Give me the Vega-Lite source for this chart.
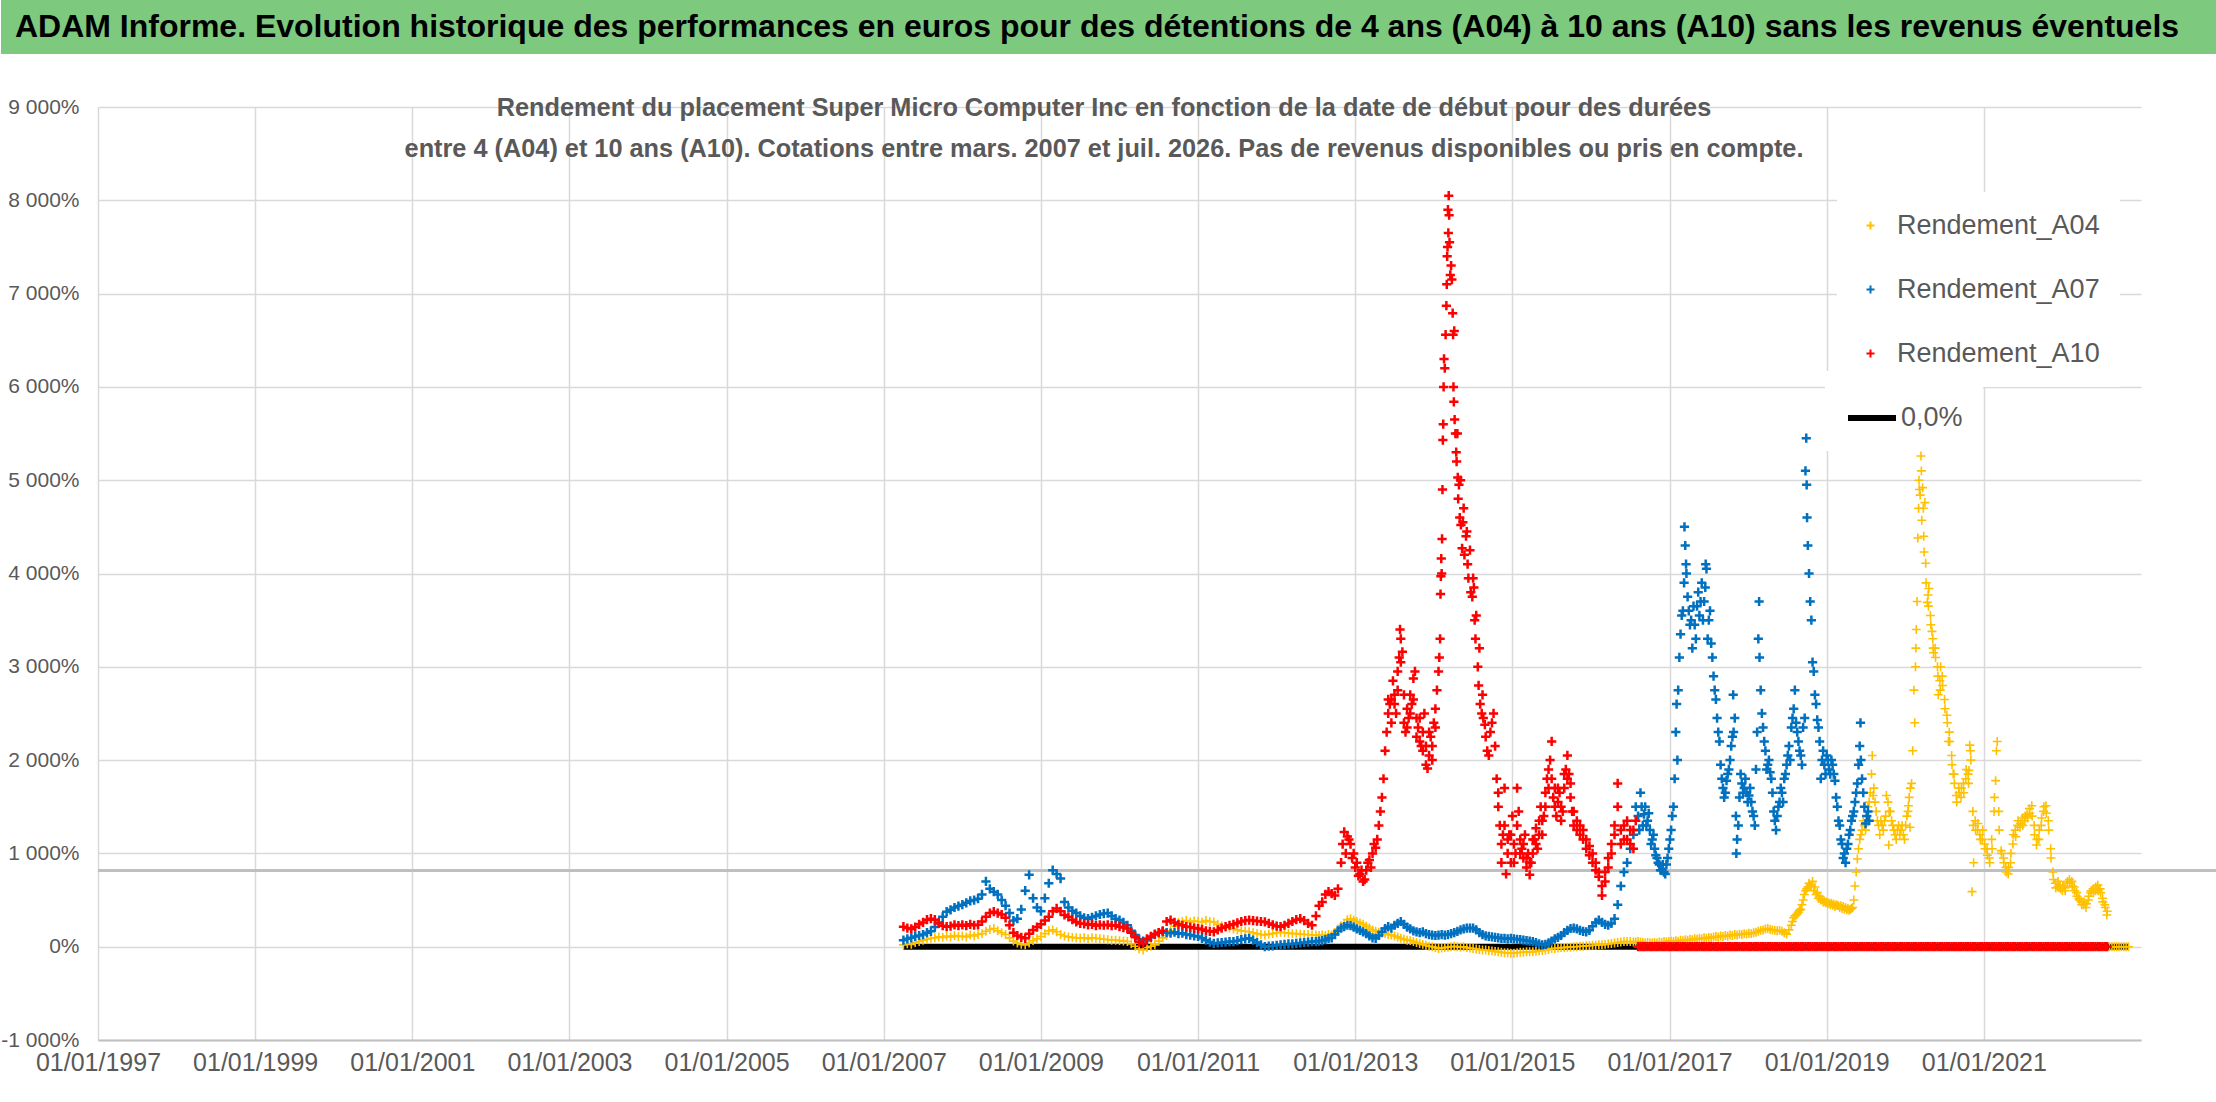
{
  "$schema": "https://vega.github.io/schema/vega-lite/v6.json",
  "background": "white",
  "padding": 0,
  "columns": 1,
  "spacing": 41,
  "config": {
    "view": {"stroke": null},
    "font": "Liberation Sans, sans-serif"
  },
  "concat": [
    {
      "width": 2216,
      "height": 54,
      "view": {"fill": "#7DC97E", "stroke": null},
      "data": {"values": [{"titre": "ADAM Informe. Evolution historique des performances en euros pour des détentions de 4 ans (A04) à 10 ans (A10) sans les revenus éventuels"}]},
      "mark": {"type": "text", "font": "Liberation Sans, sans-serif", "fontSize": 32, "fontWeight": "bold", "color": "black", "dx": -12},
      "encoding": {"text": {"field": "titre"}}
    },
    {
      "width": 2140,
      "height": 933,
      "title": {
        "text": [
          "Rendement du placement Super Micro Computer Inc en fonction de la date de début pour des durées",
          "entre 4 (A04) et 10 ans (A10). Cotations entre mars. 2007 et juil. 2026. Pas de revenus disponibles ou pris en compte."
        ],
        "anchor": "middle",
        "frame": "group",
        "offset": -66,
        "dx": 33,
        "font": "Liberation Sans, sans-serif",
        "fontSize": 25.3,
        "fontWeight": "bold",
        "color": "#595959",
        "lineHeight": 41
      },
      "data": {"values": [
        {"t":2007.25,"a":20,"b":70,"c":215},
        {"t":2007.30,"a":30,"b":85,"c":200},
        {"t":2007.35,"a":25,"b":95,"c":190},
        {"t":2007.40,"a":45,"b":110,"c":210},
        {"t":2007.45,"a":55,"b":120,"c":240},
        {"t":2007.50,"a":70,"b":130,"c":260},
        {"t":2007.55,"a":80,"b":150,"c":290},
        {"t":2007.60,"a":90,"b":165,"c":300},
        {"t":2007.65,"a":95,"b":210,"c":290},
        {"t":2007.70,"a":105,"b":260,"c":250},
        {"t":2007.75,"a":100,"b":320,"c":225},
        {"t":2007.80,"a":115,"b":375,"c":215},
        {"t":2007.85,"a":105,"b":395,"c":220},
        {"t":2007.90,"a":120,"b":420,"c":235},
        {"t":2007.95,"a":110,"b":435,"c":225},
        {"t":2008.00,"a":115,"b":450,"c":235},
        {"t":2008.05,"a":105,"b":470,"c":225},
        {"t":2008.10,"a":125,"b":490,"c":240},
        {"t":2008.15,"a":115,"b":500,"c":230},
        {"t":2008.20,"a":130,"b":515,"c":235},
        {"t":2008.25,"a":140,"b":560,"c":270},
        {"t":2008.30,"a":165,"b":700,"c":320},
        {"t":2008.35,"a":185,"b":620,"c":360},
        {"t":2008.40,"a":195,"b":590,"c":375},
        {"t":2008.45,"a":170,"b":560,"c":360},
        {"t":2008.50,"a":150,"b":500,"c":345},
        {"t":2008.55,"a":130,"b":440,"c":310},
        {"t":2008.60,"a":95,"b":360,"c":230},
        {"t":2008.65,"a":60,"b":280,"c":150},
        {"t":2008.70,"a":40,"b":300,"c":120},
        {"t":2008.75,"a":25,"b":400,"c":100},
        {"t":2008.80,"a":20,"b":600,"c":90},
        {"t":2008.85,"a":40,"b":770,"c":140},
        {"t":2008.90,"a":65,"b":520,"c":180},
        {"t":2008.95,"a":85,"b":420,"c":210},
        {"t":2009.00,"a":110,"b":380,"c":240},
        {"t":2009.05,"a":140,"b":520,"c":280},
        {"t":2009.10,"a":170,"b":680,"c":320},
        {"t":2009.15,"a":180,"b":820,"c":380},
        {"t":2009.20,"a":160,"b":780,"c":410},
        {"t":2009.25,"a":130,"b":730,"c":380},
        {"t":2009.30,"a":115,"b":480,"c":340},
        {"t":2009.35,"a":105,"b":420,"c":320},
        {"t":2009.40,"a":100,"b":385,"c":290},
        {"t":2009.45,"a":95,"b":360,"c":265},
        {"t":2009.50,"a":90,"b":330,"c":250},
        {"t":2009.55,"a":95,"b":310,"c":245},
        {"t":2009.60,"a":85,"b":300,"c":235},
        {"t":2009.65,"a":95,"b":315,"c":240},
        {"t":2009.70,"a":90,"b":330,"c":225},
        {"t":2009.75,"a":85,"b":345,"c":235},
        {"t":2009.80,"a":80,"b":355,"c":230},
        {"t":2009.85,"a":75,"b":360,"c":235},
        {"t":2009.90,"a":70,"b":330,"c":225},
        {"t":2009.95,"a":70,"b":300,"c":230},
        {"t":2010.00,"a":65,"b":285,"c":215},
        {"t":2010.05,"a":60,"b":260,"c":205},
        {"t":2010.10,"a":55,"b":230,"c":195},
        {"t":2010.15,"a":30,"b":170,"c":150},
        {"t":2010.20,"a":5,"b":125,"c":100},
        {"t":2010.25,"a":-25,"b":80,"c":50},
        {"t":2010.30,"a":-35,"b":60,"c":35},
        {"t":2010.35,"a":-10,"b":70,"c":85},
        {"t":2010.40,"a":5,"b":100,"c":110},
        {"t":2010.45,"a":20,"b":130,"c":135},
        {"t":2010.50,"a":60,"b":150,"c":150},
        {"t":2010.55,"a":95,"b":160,"c":170},
        {"t":2010.60,"a":120,"b":150,"c":270},
        {"t":2010.65,"a":170,"b":145,"c":285},
        {"t":2010.70,"a":220,"b":155,"c":260},
        {"t":2010.75,"a":260,"b":140,"c":240},
        {"t":2010.80,"a":270,"b":145,"c":230},
        {"t":2010.85,"a":280,"b":130,"c":215},
        {"t":2010.90,"a":265,"b":125,"c":210},
        {"t":2010.95,"a":275,"b":115,"c":200},
        {"t":2011.00,"a":270,"b":110,"c":195},
        {"t":2011.05,"a":265,"b":90,"c":185},
        {"t":2011.10,"a":280,"b":70,"c":170},
        {"t":2011.15,"a":270,"b":50,"c":165},
        {"t":2011.20,"a":265,"b":35,"c":160},
        {"t":2011.25,"a":240,"b":40,"c":180},
        {"t":2011.30,"a":225,"b":45,"c":200},
        {"t":2011.35,"a":210,"b":50,"c":215},
        {"t":2011.40,"a":200,"b":55,"c":230},
        {"t":2011.45,"a":190,"b":55,"c":240},
        {"t":2011.50,"a":180,"b":65,"c":255},
        {"t":2011.55,"a":170,"b":75,"c":270},
        {"t":2011.60,"a":165,"b":85,"c":280},
        {"t":2011.65,"a":160,"b":90,"c":285},
        {"t":2011.70,"a":150,"b":70,"c":280},
        {"t":2011.75,"a":140,"b":45,"c":275},
        {"t":2011.80,"a":130,"b":20,"c":270},
        {"t":2011.85,"a":125,"b":0,"c":265},
        {"t":2011.90,"a":135,"b":5,"c":250},
        {"t":2011.95,"a":140,"b":10,"c":235},
        {"t":2012.00,"a":150,"b":15,"c":220},
        {"t":2012.05,"a":155,"b":20,"c":215},
        {"t":2012.10,"a":150,"b":25,"c":230},
        {"t":2012.15,"a":145,"b":30,"c":250},
        {"t":2012.20,"a":140,"b":30,"c":270},
        {"t":2012.25,"a":140,"b":35,"c":290},
        {"t":2012.30,"a":135,"b":40,"c":300},
        {"t":2012.35,"a":130,"b":45,"c":280},
        {"t":2012.40,"a":130,"b":50,"c":250},
        {"t":2012.45,"a":125,"b":55,"c":230},
        {"t":2012.50,"a":125,"b":55,"c":330},
        {"t":2012.54,"a":120,"b":60,"c":440},
        {"t":2012.58,"a":125,"b":65,"c":480},
        {"t":2012.62,"a":120,"b":75,"c":560},
        {"t":2012.66,"a":130,"b":90,"c":590},
        {"t":2012.70,"a":125,"b":95,"c":570},
        {"t":2012.74,"a":150,"b":130,"c":550},
        {"t":2012.78,"a":190,"b":170,"c":620},
        {"t":2012.82,"a":225,"b":200,"c":900},
        {"t":2012.86,"a":250,"b":215,"c":1230},
        {"t":2012.90,"a":290,"b":230,"c":1180},
        {"t":2012.94,"a":300,"b":225,"c":1100},
        {"t":2012.98,"a":285,"b":210,"c":1000},
        {"t":2013.02,"a":270,"b":190,"c":900},
        {"t":2013.06,"a":255,"b":175,"c":780},
        {"t":2013.10,"a":240,"b":160,"c":700},
        {"t":2013.14,"a":220,"b":140,"c":820},
        {"t":2013.18,"a":200,"b":115,"c":930},
        {"t":2013.22,"a":180,"b":95,"c":1000},
        {"t":2013.26,"a":165,"b":90,"c":1060},
        {"t":2013.30,"a":155,"b":120,"c":1300},
        {"t":2013.34,"a":145,"b":160,"c":1600},
        {"t":2013.38,"a":140,"b":195,"c":2100},
        {"t":2013.42,"a":130,"b":215,"c":2500},
        {"t":2013.46,"a":125,"b":200,"c":2650},
        {"t":2013.50,"a":115,"b":230,"c":2700},
        {"t":2013.54,"a":105,"b":250,"c":2950},
        {"t":2013.58,"a":90,"b":270,"c":3300},
        {"t":2013.62,"a":80,"b":240,"c":2400},
        {"t":2013.66,"a":70,"b":210,"c":2550},
        {"t":2013.70,"a":65,"b":190,"c":2700},
        {"t":2013.74,"a":55,"b":170,"c":2875},
        {"t":2013.78,"a":45,"b":160,"c":2250},
        {"t":2013.82,"a":35,"b":150,"c":2450},
        {"t":2013.86,"a":25,"b":160,"c":2300},
        {"t":2013.90,"a":15,"b":140,"c":1950},
        {"t":2013.94,"a":5,"b":130,"c":2050},
        {"t":2013.98,"a":0,"b":125,"c":2150},
        {"t":2014.02,"a":-10,"b":120,"c":2550},
        {"t":2014.06,"a":-20,"b":125,"c":2950},
        {"t":2014.10,"a":-15,"b":130,"c":4000},
        {"t":2014.14,"a":-10,"b":125,"c":6200},
        {"t":2014.18,"a":-5,"b":130,"c":7900},
        {"t":2014.22,"a":0,"b":140,"c":7300},
        {"t":2014.26,"a":5,"b":150,"c":6600},
        {"t":2014.30,"a":0,"b":165,"c":5500},
        {"t":2014.34,"a":-5,"b":180,"c":5000},
        {"t":2014.38,"a":0,"b":190,"c":4700},
        {"t":2014.42,"a":-10,"b":200,"c":4450},
        {"t":2014.46,"a":-15,"b":200,"c":4250},
        {"t":2014.50,"a":-20,"b":200,"c":3950},
        {"t":2014.54,"a":-25,"b":180,"c":3550},
        {"t":2014.58,"a":-30,"b":150,"c":3200},
        {"t":2014.62,"a":-35,"b":130,"c":2700},
        {"t":2014.66,"a":-35,"b":115,"c":2250},
        {"t":2014.70,"a":-40,"b":110,"c":2050},
        {"t":2014.74,"a":-45,"b":105,"c":2400},
        {"t":2014.78,"a":-50,"b":100,"c":2150},
        {"t":2014.82,"a":-55,"b":95,"c":1500},
        {"t":2014.86,"a":-60,"b":90,"c":900},
        {"t":2014.90,"a":-65,"b":90,"c":1700},
        {"t":2014.94,"a":-65,"b":85,"c":1000},
        {"t":2014.98,"a":-70,"b":90,"c":900},
        {"t":2015.02,"a":-70,"b":85,"c":1100},
        {"t":2015.06,"a":-65,"b":80,"c":1700},
        {"t":2015.10,"a":-60,"b":75,"c":1150},
        {"t":2015.14,"a":-60,"b":70,"c":950},
        {"t":2015.18,"a":-55,"b":65,"c":850},
        {"t":2015.22,"a":-55,"b":60,"c":770},
        {"t":2015.26,"a":-55,"b":55,"c":1000},
        {"t":2015.30,"a":-50,"b":45,"c":1270},
        {"t":2015.34,"a":-45,"b":30,"c":1200},
        {"t":2015.38,"a":-40,"b":20,"c":1350},
        {"t":2015.42,"a":-35,"b":25,"c":1650},
        {"t":2015.46,"a":-30,"b":40,"c":1900},
        {"t":2015.50,"a":-20,"b":60,"c":2200},
        {"t":2015.54,"a":-20,"b":85,"c":1700},
        {"t":2015.58,"a":-15,"b":100,"c":1550},
        {"t":2015.62,"a":-10,"b":120,"c":1500},
        {"t":2015.66,"a":-10,"b":150,"c":1700},
        {"t":2015.70,"a":-5,"b":175,"c":2050},
        {"t":2015.74,"a":-5,"b":195,"c":1750},
        {"t":2015.78,"a":0,"b":200,"c":1300},
        {"t":2015.82,"a":0,"b":190,"c":1250},
        {"t":2015.86,"a":5,"b":175,"c":1200},
        {"t":2015.90,"a":5,"b":165,"c":1150},
        {"t":2015.94,"a":10,"b":160,"c":1050},
        {"t":2015.98,"a":10,"b":175,"c":980},
        {"t":2016.02,"a":15,"b":220,"c":900},
        {"t":2016.06,"a":15,"b":260,"c":820},
        {"t":2016.10,"a":20,"b":285,"c":750},
        {"t":2016.14,"a":20,"b":260,"c":550},
        {"t":2016.18,"a":25,"b":240,"c":700},
        {"t":2016.22,"a":30,"b":230,"c":850},
        {"t":2016.26,"a":35,"b":250,"c":1000},
        {"t":2016.30,"a":40,"b":300,"c":1200},
        {"t":2016.34,"a":45,"b":450,"c":1750},
        {"t":2016.38,"a":50,"b":650,"c":1100},
        {"t":2016.42,"a":55,"b":800,"c":1300},
        {"t":2016.46,"a":55,"b":900,"c":1150},
        {"t":2016.50,"a":55,"b":1050,"c":1250},
        {"t":2016.54,"a":50,"b":1200,"c":1050},
        {"t":2016.57,"a":50,"b":1500,"c":1350},
        {"t":2016.60,"a":55,"b":1400,"c":0},
        {"t":2016.63,"a":50,"b":1650,"c":0},
        {"t":2016.66,"a":45,"b":1300,"c":0},
        {"t":2016.69,"a":40,"b":1500,"c":0},
        {"t":2016.72,"a":45,"b":1350,"c":0},
        {"t":2016.75,"a":40,"b":1250,"c":0},
        {"t":2016.78,"a":40,"b":1150,"c":0},
        {"t":2016.81,"a":45,"b":1050,"c":0},
        {"t":2016.84,"a":40,"b":950,"c":0},
        {"t":2016.87,"a":50,"b":880,"c":0},
        {"t":2016.90,"a":45,"b":820,"c":0},
        {"t":2016.93,"a":55,"b":800,"c":0},
        {"t":2016.96,"a":50,"b":880,"c":0},
        {"t":2016.99,"a":55,"b":1050,"c":0},
        {"t":2017.02,"a":60,"b":1250,"c":0},
        {"t":2017.05,"a":55,"b":1500,"c":0},
        {"t":2017.08,"a":65,"b":2300,"c":0},
        {"t":2017.11,"a":60,"b":2750,"c":0},
        {"t":2017.14,"a":70,"b":3350,"c":0},
        {"t":2017.17,"a":65,"b":3600,"c":0},
        {"t":2017.20,"a":75,"b":4300,"c":0},
        {"t":2017.23,"a":70,"b":3750,"c":0},
        {"t":2017.26,"a":80,"b":3450,"c":0},
        {"t":2017.29,"a":75,"b":3200,"c":0},
        {"t":2017.32,"a":85,"b":3450,"c":0},
        {"t":2017.35,"a":80,"b":3650,"c":0},
        {"t":2017.38,"a":90,"b":3550,"c":0},
        {"t":2017.41,"a":85,"b":3900,"c":0},
        {"t":2017.44,"a":95,"b":3700,"c":0},
        {"t":2017.47,"a":90,"b":4050,"c":0},
        {"t":2017.50,"a":100,"b":3500,"c":0},
        {"t":2017.53,"a":95,"b":3250,"c":0},
        {"t":2017.56,"a":105,"b":2900,"c":0},
        {"t":2017.59,"a":110,"b":2650,"c":0},
        {"t":2017.62,"a":105,"b":2300,"c":0},
        {"t":2017.65,"a":115,"b":1950,"c":0},
        {"t":2017.68,"a":110,"b":1700,"c":0},
        {"t":2017.71,"a":120,"b":1650,"c":0},
        {"t":2017.74,"a":115,"b":1850,"c":0},
        {"t":2017.77,"a":125,"b":2000,"c":0},
        {"t":2017.80,"a":120,"b":2250,"c":0},
        {"t":2017.83,"a":130,"b":2450,"c":0},
        {"t":2017.86,"a":125,"b":1150,"c":0},
        {"t":2017.89,"a":135,"b":1600,"c":0},
        {"t":2017.92,"a":130,"b":1750,"c":0},
        {"t":2017.95,"a":140,"b":1700,"c":0},
        {"t":2017.98,"a":135,"b":1650,"c":0},
        {"t":2018.01,"a":145,"b":1620,"c":0},
        {"t":2018.04,"a":140,"b":1550,"c":0},
        {"t":2018.07,"a":150,"b":1400,"c":0},
        {"t":2018.10,"a":155,"b":1900,"c":0},
        {"t":2018.13,"a":165,"b":3300,"c":0},
        {"t":2018.16,"a":175,"b":2750,"c":0},
        {"t":2018.19,"a":180,"b":2350,"c":0},
        {"t":2018.22,"a":190,"b":2100,"c":0},
        {"t":2018.25,"a":195,"b":1950,"c":0},
        {"t":2018.28,"a":185,"b":1870,"c":0},
        {"t":2018.31,"a":180,"b":1650,"c":0},
        {"t":2018.34,"a":175,"b":1350,"c":0},
        {"t":2018.37,"a":170,"b":1400,"c":0},
        {"t":2018.40,"a":175,"b":1550,"c":0},
        {"t":2018.43,"a":165,"b":1650,"c":0},
        {"t":2018.46,"a":150,"b":1800,"c":0},
        {"t":2018.49,"a":135,"b":1950,"c":0},
        {"t":2018.52,"a":180,"b":2150,"c":0},
        {"t":2018.55,"a":230,"b":2350,"c":0},
        {"t":2018.58,"a":310,"b":2550,"c":0},
        {"t":2018.61,"a":340,"b":2400,"c":0},
        {"t":2018.64,"a":370,"b":2200,"c":0},
        {"t":2018.67,"a":400,"b":2050,"c":0},
        {"t":2018.70,"a":500,"b":2350,"c":0},
        {"t":2018.73,"a":600,"b":5100,"c":0},
        {"t":2018.76,"a":640,"b":4300,"c":0},
        {"t":2018.79,"a":660,"b":3700,"c":0},
        {"t":2018.82,"a":700,"b":3050,"c":0},
        {"t":2018.85,"a":640,"b":2700,"c":0},
        {"t":2018.88,"a":580,"b":2430,"c":0},
        {"t":2018.91,"a":540,"b":2200,"c":0},
        {"t":2018.94,"a":510,"b":2000,"c":0},
        {"t":2018.97,"a":490,"b":1950,"c":0},
        {"t":2019.00,"a":480,"b":2050,"c":0},
        {"t":2019.03,"a":470,"b":1900,"c":0},
        {"t":2019.06,"a":465,"b":2000,"c":0},
        {"t":2019.09,"a":455,"b":1850,"c":0},
        {"t":2019.12,"a":450,"b":1600,"c":0},
        {"t":2019.15,"a":440,"b":1350,"c":0},
        {"t":2019.18,"a":440,"b":1150,"c":0},
        {"t":2019.21,"a":430,"b":950,"c":0},
        {"t":2019.24,"a":420,"b":900,"c":0},
        {"t":2019.27,"a":410,"b":1100,"c":0},
        {"t":2019.30,"a":400,"b":1250,"c":0},
        {"t":2019.33,"a":420,"b":1400,"c":0},
        {"t":2019.36,"a":650,"b":1550,"c":0},
        {"t":2019.39,"a":940,"b":1750,"c":0},
        {"t":2019.42,"a":1150,"b":2150,"c":0},
        {"t":2019.45,"a":1250,"b":1800,"c":0},
        {"t":2019.48,"a":1300,"b":1500,"c":0},
        {"t":2019.51,"a":1400,"b":1400,"c":0},
        {"t":2019.54,"a":1550,"b":1350,"c":0},
        {"t":2019.57,"a":1850,"c":0},
        {"t":2019.60,"a":1700,"c":0},
        {"t":2019.63,"a":1450,"c":0},
        {"t":2019.66,"a":1300,"c":0},
        {"t":2019.69,"a":1350,"c":0},
        {"t":2019.72,"a":1250,"c":0},
        {"t":2019.75,"a":1400,"c":0},
        {"t":2019.78,"a":1550,"c":0},
        {"t":2019.81,"a":1450,"c":0},
        {"t":2019.84,"a":1300,"c":0},
        {"t":2019.87,"a":1200,"c":0},
        {"t":2019.90,"a":1250,"c":0},
        {"t":2019.93,"a":1200,"c":0},
        {"t":2019.96,"a":1300,"c":0},
        {"t":2019.99,"a":1150,"c":0},
        {"t":2020.02,"a":1400,"c":0},
        {"t":2020.05,"a":1600,"c":0},
        {"t":2020.08,"a":1750,"c":0},
        {"t":2020.11,"a":2750,"c":0},
        {"t":2020.14,"a":3400,"c":0},
        {"t":2020.17,"a":4700,"c":0},
        {"t":2020.20,"a":5260,"c":0},
        {"t":2020.23,"a":4700,"c":0},
        {"t":2020.26,"a":4110,"c":0},
        {"t":2020.29,"a":3770,"c":0},
        {"t":2020.32,"a":3550,"c":0},
        {"t":2020.35,"a":3300,"c":0},
        {"t":2020.38,"a":3200,"c":0},
        {"t":2020.41,"a":3000,"c":0},
        {"t":2020.44,"a":2850,"c":0},
        {"t":2020.47,"a":2900,"c":0},
        {"t":2020.50,"a":2650,"c":0},
        {"t":2020.53,"a":2480,"c":0},
        {"t":2020.56,"a":2300,"c":0},
        {"t":2020.59,"a":2050,"c":0},
        {"t":2020.62,"a":1850,"c":0},
        {"t":2020.65,"a":1620,"c":0},
        {"t":2020.68,"a":1700,"c":0},
        {"t":2020.71,"a":1600,"c":0},
        {"t":2020.74,"a":1750,"c":0},
        {"t":2020.77,"a":1800,"c":0},
        {"t":2020.80,"a":1850,"c":0},
        {"t":2020.83,"a":2100,"c":0},
        {"t":2020.86,"a":1450,"c":0},
        {"t":2020.89,"a":1350,"c":0},
        {"t":2020.92,"a":1250,"c":0},
        {"t":2020.95,"a":1200,"c":0},
        {"t":2020.98,"a":1150,"c":0},
        {"t":2021.01,"a":1100,"c":0},
        {"t":2021.04,"a":1050,"c":0},
        {"t":2021.07,"a":950,"c":0},
        {"t":2021.10,"a":1150,"c":0},
        {"t":2021.13,"a":1450,"c":0},
        {"t":2021.16,"a":2100,"c":0},
        {"t":2021.19,"a":1450,"c":0},
        {"t":2021.22,"a":1030,"c":0},
        {"t":2021.25,"a":950,"c":0},
        {"t":2021.28,"a":850,"c":0},
        {"t":2021.31,"a":780,"c":0},
        {"t":2021.34,"a":900,"c":0},
        {"t":2021.37,"a":1100,"c":0},
        {"t":2021.40,"a":1250,"c":0},
        {"t":2021.43,"a":1300,"c":0},
        {"t":2021.46,"a":1280,"c":0},
        {"t":2021.49,"a":1380,"c":0},
        {"t":2021.52,"a":1350,"c":0},
        {"t":2021.55,"a":1420,"c":0},
        {"t":2021.58,"a":1480,"c":0},
        {"t":2021.61,"a":1510,"c":0},
        {"t":2021.64,"a":1300,"c":0},
        {"t":2021.67,"a":1090,"c":0},
        {"t":2021.70,"a":1150,"c":0},
        {"t":2021.73,"a":1300,"c":0},
        {"t":2021.76,"a":1450,"c":0},
        {"t":2021.79,"a":1510,"c":0},
        {"t":2021.82,"a":1350,"c":0},
        {"t":2021.85,"a":1050,"c":0},
        {"t":2021.88,"a":800,"c":0},
        {"t":2021.91,"a":680,"c":0},
        {"t":2021.94,"a":640,"c":0},
        {"t":2021.97,"a":660,"c":0},
        {"t":2022.00,"a":600,"c":0},
        {"t":2022.03,"a":630,"c":0},
        {"t":2022.06,"a":680,"c":0},
        {"t":2022.09,"a":720,"c":0},
        {"t":2022.12,"a":700,"c":0},
        {"t":2022.15,"a":640,"c":0},
        {"t":2022.18,"a":580,"c":0},
        {"t":2022.21,"a":520,"c":0},
        {"t":2022.24,"a":480,"c":0},
        {"t":2022.27,"a":450,"c":0},
        {"t":2022.30,"a":420,"c":0},
        {"t":2022.33,"a":500,"c":0},
        {"t":2022.36,"a":580,"c":0},
        {"t":2022.39,"a":620,"c":0},
        {"t":2022.42,"a":600,"c":0},
        {"t":2022.45,"a":660,"c":0},
        {"t":2022.48,"a":620,"c":0},
        {"t":2022.51,"a":520,"c":0},
        {"t":2022.54,"a":450,"c":0},
        {"t":2022.57,"a":380,"c":0},
        {"t":2022.60,"a":0},
        {"t":2022.63,"a":0},
        {"t":2022.66,"a":0},
        {"t":2022.69,"a":0},
        {"t":2022.72,"a":0},
        {"t":2022.75,"a":0},
        {"t":2022.78,"a":0},
        {"t":2022.81,"a":0},
        {"t":2022.84,"a":0},
        {"t":2013.40,"c":2300},
        {"t":2013.44,"c":2600},
        {"t":2013.48,"c":2850},
        {"t":2013.52,"c":2500},
        {"t":2013.56,"c":3100},
        {"t":2013.57,"c":3400},
        {"t":2013.60,"c":3160},
        {"t":2013.64,"c":2300},
        {"t":2013.68,"c":2450},
        {"t":2013.72,"c":2600},
        {"t":2013.76,"c":2950},
        {"t":2013.80,"c":2350},
        {"t":2013.84,"c":2150},
        {"t":2013.88,"c":2500},
        {"t":2013.92,"c":1910},
        {"t":2013.96,"c":2250},
        {"t":2014.00,"c":2400},
        {"t":2014.04,"c":2750},
        {"t":2014.07,"c":3100},
        {"t":2014.08,"c":3300},
        {"t":2014.085,"c":3780},
        {"t":2014.09,"c":3970},
        {"t":2014.095,"c":4160},
        {"t":2014.105,"c":4370},
        {"t":2014.11,"c":4900},
        {"t":2014.115,"c":5430},
        {"t":2014.12,"c":5600},
        {"t":2014.125,"c":6000},
        {"t":2014.13,"c":6300},
        {"t":2014.15,"c":6560},
        {"t":2014.16,"c":6870},
        {"t":2014.165,"c":7100},
        {"t":2014.17,"c":7400},
        {"t":2014.175,"c":7500},
        {"t":2014.185,"c":7650},
        {"t":2014.19,"c":8050},
        {"t":2014.195,"c":7840},
        {"t":2014.20,"c":7550},
        {"t":2014.21,"c":7200},
        {"t":2014.23,"c":7150},
        {"t":2014.24,"c":6790},
        {"t":2014.245,"c":6560},
        {"t":2014.25,"c":6000},
        {"t":2014.255,"c":5840},
        {"t":2014.265,"c":5650},
        {"t":2014.275,"c":5500},
        {"t":2014.285,"c":5300},
        {"t":2014.29,"c":5200},
        {"t":2014.305,"c":5030},
        {"t":2014.31,"c":4800},
        {"t":2014.32,"c":4950},
        {"t":2014.33,"c":4600},
        {"t":2014.345,"c":4520},
        {"t":2014.36,"c":4270},
        {"t":2014.37,"c":4550},
        {"t":2014.39,"c":4200},
        {"t":2014.41,"c":4400},
        {"t":2014.43,"c":4100},
        {"t":2014.44,"c":3950},
        {"t":2014.47,"c":3800},
        {"t":2014.49,"c":3750},
        {"t":2014.51,"c":3850},
        {"t":2014.52,"c":3500},
        {"t":2014.53,"c":3300},
        {"t":2014.56,"c":3000},
        {"t":2014.57,"c":2800},
        {"t":2014.59,"c":2600},
        {"t":2014.61,"c":2500},
        {"t":2014.63,"c":2450},
        {"t":2014.65,"c":2380},
        {"t":2014.80,"c":1800},
        {"t":2014.84,"c":1300},
        {"t":2014.88,"c":1200},
        {"t":2014.92,"c":780},
        {"t":2014.96,"c":1200},
        {"t":2015.00,"c":1400},
        {"t":2015.04,"c":1000},
        {"t":2015.08,"c":1450},
        {"t":2015.12,"c":1050},
        {"t":2015.16,"c":1200},
        {"t":2015.20,"c":1000},
        {"t":2015.24,"c":900},
        {"t":2015.28,"c":1150},
        {"t":2015.32,"c":1050},
        {"t":2015.36,"c":1500},
        {"t":2015.40,"c":1400},
        {"t":2015.44,"c":1800},
        {"t":2015.48,"c":2000},
        {"t":2015.52,"c":1600},
        {"t":2015.56,"c":1400},
        {"t":2015.60,"c":1650},
        {"t":2015.64,"c":1450},
        {"t":2015.68,"c":1900},
        {"t":2015.72,"c":1850},
        {"t":2015.76,"c":1450},
        {"t":2012.84,"c":1100},
        {"t":2012.88,"c":1000},
        {"t":2012.92,"c":1150},
        {"t":2012.96,"c":950},
        {"t":2013.00,"c":850},
        {"t":2013.04,"c":760},
        {"t":2013.08,"c":820},
        {"t":2013.12,"c":720},
        {"t":2013.16,"c":900},
        {"t":2013.20,"c":850},
        {"t":2013.24,"c":1100},
        {"t":2013.28,"c":1150},
        {"t":2013.32,"c":1450},
        {"t":2013.36,"c":1800},
        {"t":2013.42,"c":2650},
        {"t":2013.46,"c":2400},
        {"t":2013.50,"c":2600},
        {"t":2013.54,"c":2750},
        {"t":2013.58,"c":3050},
        {"t":2013.62,"c":2700},
        {"t":2013.66,"c":2350},
        {"t":2013.70,"c":2500},
        {"t":2013.74,"c":2650},
        {"t":2013.78,"c":2450},
        {"t":2013.82,"c":2200},
        {"t":2013.86,"c":2100},
        {"t":2013.90,"c":2150},
        {"t":2013.94,"c":2300},
        {"t":2013.98,"c":2000},
        {"t":2014.02,"c":2350},
        {"t":2014.68,"c":2100},
        {"t":2014.72,"c":2300},
        {"t":2014.76,"c":2500},
        {"t":2014.82,"c":1650},
        {"t":2014.86,"c":1100},
        {"t":2014.90,"c":1300},
        {"t":2014.94,"c":1150},
        {"t":2014.98,"c":1200},
        {"t":2015.02,"c":900},
        {"t":2015.06,"c":1300},
        {"t":2015.10,"c":1000},
        {"t":2015.14,"c":1100},
        {"t":2015.18,"c":950},
        {"t":2015.22,"c":900},
        {"t":2015.26,"c":1150},
        {"t":2015.30,"c":1100},
        {"t":2015.34,"c":1350},
        {"t":2015.38,"c":1200},
        {"t":2015.42,"c":1500},
        {"t":2015.46,"c":1700},
        {"t":2015.50,"c":1800},
        {"t":2015.54,"c":1500},
        {"t":2015.58,"c":1700},
        {"t":2015.62,"c":1350},
        {"t":2015.66,"c":1850},
        {"t":2015.70,"c":1800},
        {"t":2015.74,"c":1600},
        {"t":2015.78,"c":1450},
        {"t":2015.82,"c":1350},
        {"t":2015.86,"c":1300},
        {"t":2015.90,"c":1250},
        {"t":2015.94,"c":1150},
        {"t":2015.98,"c":1080},
        {"t":2016.02,"c":1000},
        {"t":2016.06,"c":900},
        {"t":2016.10,"c":800},
        {"t":2016.14,"c":650},
        {"t":2016.18,"c":800},
        {"t":2016.22,"c":950},
        {"t":2016.26,"c":1100},
        {"t":2016.30,"c":1300},
        {"t":2016.34,"c":1500},
        {"t":2016.38,"c":1250},
        {"t":2016.42,"c":1150},
        {"t":2016.46,"c":1350},
        {"t":2016.50,"c":1100},
        {"t":2016.54,"c":1250},
        {"t":2017.09,"b":2600},
        {"t":2017.10,"b":2000},
        {"t":2017.19,"b":4500},
        {"t":2017.21,"b":4100},
        {"t":2017.46,"b":4100},
        {"t":2017.81,"b":2700},
        {"t":2017.85,"b":1000},
        {"t":2018.14,"b":3700},
        {"t":2018.145,"b":3100},
        {"t":2018.72,"b":2450},
        {"t":2018.74,"b":5450},
        {"t":2018.745,"b":4950},
        {"t":2018.75,"b":4600},
        {"t":2019.43,"b":2400},
        {"t":2016.615,"b":1250},
        {"t":2016.645,"b":1500},
        {"t":2016.675,"b":1420},
        {"t":2016.705,"b":1300},
        {"t":2016.735,"b":1430},
        {"t":2016.765,"b":1100},
        {"t":2016.795,"b":1200},
        {"t":2016.825,"b":980},
        {"t":2016.855,"b":900},
        {"t":2016.885,"b":820},
        {"t":2016.915,"b":880},
        {"t":2016.945,"b":780},
        {"t":2016.975,"b":950},
        {"t":2017.005,"b":1150},
        {"t":2017.035,"b":1400},
        {"t":2017.065,"b":1800},
        {"t":2017.125,"b":3100},
        {"t":2017.155,"b":3550},
        {"t":2017.185,"b":3900},
        {"t":2017.215,"b":4000},
        {"t":2017.245,"b":3600},
        {"t":2017.275,"b":3500},
        {"t":2017.305,"b":3650},
        {"t":2017.335,"b":3300},
        {"t":2017.365,"b":3800},
        {"t":2017.395,"b":3700},
        {"t":2017.425,"b":3500},
        {"t":2017.455,"b":3850},
        {"t":2017.485,"b":3300},
        {"t":2017.515,"b":3600},
        {"t":2017.545,"b":3100},
        {"t":2017.575,"b":2750},
        {"t":2017.605,"b":2450},
        {"t":2017.635,"b":2200},
        {"t":2017.665,"b":1800},
        {"t":2017.695,"b":1600},
        {"t":2017.725,"b":1780},
        {"t":2017.755,"b":1900},
        {"t":2017.785,"b":2150},
        {"t":2017.815,"b":2300},
        {"t":2017.845,"b":1400},
        {"t":2017.875,"b":1300},
        {"t":2017.905,"b":1850},
        {"t":2017.935,"b":1650},
        {"t":2017.965,"b":1800},
        {"t":2017.995,"b":1550},
        {"t":2018.025,"b":1700},
        {"t":2018.055,"b":1450},
        {"t":2018.085,"b":1300},
        {"t":2018.115,"b":2300},
        {"t":2018.175,"b":2500},
        {"t":2018.205,"b":2200},
        {"t":2018.235,"b":1900},
        {"t":2018.265,"b":2000},
        {"t":2018.295,"b":1800},
        {"t":2018.325,"b":1450},
        {"t":2018.355,"b":1250},
        {"t":2018.385,"b":1500},
        {"t":2018.415,"b":1700},
        {"t":2018.445,"b":1550},
        {"t":2018.475,"b":1850},
        {"t":2018.505,"b":2050},
        {"t":2018.535,"b":2000},
        {"t":2018.565,"b":2450},
        {"t":2018.595,"b":2750},
        {"t":2018.625,"b":2300},
        {"t":2018.655,"b":2100},
        {"t":2018.685,"b":1950},
        {"t":2018.775,"b":4000},
        {"t":2018.805,"b":3500},
        {"t":2018.835,"b":2950},
        {"t":2018.865,"b":2600},
        {"t":2018.895,"b":2350},
        {"t":2018.925,"b":1800},
        {"t":2018.955,"b":2100},
        {"t":2018.985,"b":1850},
        {"t":2019.015,"b":2000},
        {"t":2019.045,"b":1850},
        {"t":2019.075,"b":1950},
        {"t":2019.105,"b":1780},
        {"t":2019.135,"b":1500},
        {"t":2019.165,"b":1300},
        {"t":2019.195,"b":1100},
        {"t":2019.225,"b":1000},
        {"t":2019.255,"b":1050},
        {"t":2019.285,"b":1200},
        {"t":2019.315,"b":1350},
        {"t":2019.345,"b":1450},
        {"t":2019.375,"b":1650},
        {"t":2019.405,"b":1950},
        {"t":2019.435,"b":2000},
        {"t":2019.465,"b":1650},
        {"t":2019.495,"b":1320},
        {"t":2019.525,"b":1450},
        {"t":2019.58,"a":2050},
        {"t":2019.59,"a":1620},
        {"t":2019.76,"a":1620},
        {"t":2019.79,"a":1090},
        {"t":2020.04,"a":1510},
        {"t":2020.06,"a":1280},
        {"t":2020.12,"a":2400},
        {"t":2020.13,"a":3000},
        {"t":2020.15,"a":3700},
        {"t":2020.16,"a":4380},
        {"t":2020.18,"a":4900},
        {"t":2020.19,"a":4840},
        {"t":2020.21,"a":4570},
        {"t":2020.22,"a":4920},
        {"t":2020.24,"a":4230},
        {"t":2020.25,"a":4760},
        {"t":2020.28,"a":3690},
        {"t":2020.30,"a":3840},
        {"t":2020.34,"a":3380},
        {"t":2020.36,"a":3150},
        {"t":2020.42,"a":2700},
        {"t":2020.45,"a":3000},
        {"t":2020.55,"a":2200},
        {"t":2020.61,"a":1850},
        {"t":2020.81,"a":1890},
        {"t":2020.82,"a":2160},
        {"t":2020.85,"a":590},
        {"t":2020.87,"a":900},
        {"t":2021.15,"a":1780},
        {"t":2021.17,"a":2200},
        {"t":2018.565,"a":270},
        {"t":2018.595,"a":330},
        {"t":2018.625,"a":350},
        {"t":2018.655,"a":390},
        {"t":2018.685,"a":450},
        {"t":2018.715,"a":560},
        {"t":2018.745,"a":620},
        {"t":2018.775,"a":680},
        {"t":2018.805,"a":650},
        {"t":2018.835,"a":600},
        {"t":2018.865,"a":560},
        {"t":2018.895,"a":520},
        {"t":2018.925,"a":500},
        {"t":2018.955,"a":480},
        {"t":2018.985,"a":470},
        {"t":2019.015,"a":460},
        {"t":2019.045,"a":450},
        {"t":2019.075,"a":445},
        {"t":2019.105,"a":430},
        {"t":2019.135,"a":440},
        {"t":2019.165,"a":420},
        {"t":2019.195,"a":410},
        {"t":2019.225,"a":400},
        {"t":2019.255,"a":395},
        {"t":2019.285,"a":390},
        {"t":2019.315,"a":410},
        {"t":2019.345,"a":500},
        {"t":2019.375,"a":800},
        {"t":2019.405,"a":1050},
        {"t":2019.435,"a":1200},
        {"t":2019.465,"a":1350},
        {"t":2019.495,"a":1250},
        {"t":2019.525,"a":1500},
        {"t":2019.555,"a":1650},
        {"t":2019.615,"a":1550},
        {"t":2019.645,"a":1350},
        {"t":2019.675,"a":1200},
        {"t":2019.705,"a":1300},
        {"t":2019.735,"a":1350},
        {"t":2019.795,"a":1450},
        {"t":2019.825,"a":1350},
        {"t":2019.855,"a":1250},
        {"t":2019.885,"a":1150},
        {"t":2019.915,"a":1300},
        {"t":2019.945,"a":1250},
        {"t":2019.975,"a":1200},
        {"t":2020.005,"a":1300},
        {"t":2020.035,"a":1450},
        {"t":2020.065,"a":1700},
        {"t":2020.095,"a":2100},
        {"t":2020.135,"a":3200},
        {"t":2020.175,"a":5000},
        {"t":2020.205,"a":5100},
        {"t":2020.235,"a":4400},
        {"t":2020.265,"a":3900},
        {"t":2020.295,"a":3650},
        {"t":2020.325,"a":3450},
        {"t":2020.355,"a":3200},
        {"t":2020.385,"a":3100},
        {"t":2020.415,"a":2900},
        {"t":2020.445,"a":2750},
        {"t":2020.475,"a":2800},
        {"t":2020.505,"a":2550},
        {"t":2020.535,"a":2400},
        {"t":2020.565,"a":2200},
        {"t":2020.595,"a":1950},
        {"t":2020.625,"a":1750},
        {"t":2020.655,"a":1550},
        {"t":2020.685,"a":1650},
        {"t":2020.715,"a":1700},
        {"t":2020.745,"a":1650},
        {"t":2020.775,"a":1900},
        {"t":2020.805,"a":1750},
        {"t":2020.835,"a":2000},
        {"t":2020.865,"a":1300},
        {"t":2020.895,"a":1250},
        {"t":2020.925,"a":1320},
        {"t":2020.955,"a":1150},
        {"t":2020.985,"a":1250},
        {"t":2021.015,"a":1050},
        {"t":2021.045,"a":980},
        {"t":2021.075,"a":900},
        {"t":2021.105,"a":1050},
        {"t":2021.135,"a":1600},
        {"t":2021.195,"a":1250},
        {"t":2021.225,"a":1000},
        {"t":2021.255,"a":900},
        {"t":2021.285,"a":800},
        {"t":2021.315,"a":850},
        {"t":2021.345,"a":1000},
        {"t":2021.375,"a":1200},
        {"t":2021.405,"a":1180},
        {"t":2021.435,"a":1350},
        {"t":2021.465,"a":1320},
        {"t":2021.495,"a":1300},
        {"t":2021.525,"a":1400},
        {"t":2021.555,"a":1380},
        {"t":2021.585,"a":1430},
        {"t":2021.615,"a":1400},
        {"t":2021.645,"a":1200},
        {"t":2021.675,"a":1150},
        {"t":2021.705,"a":1250},
        {"t":2021.735,"a":1380},
        {"t":2021.765,"a":1500},
        {"t":2021.795,"a":1430},
        {"t":2021.825,"a":1250},
        {"t":2021.855,"a":950},
        {"t":2021.885,"a":720},
        {"t":2021.915,"a":630},
        {"t":2021.945,"a":700},
        {"t":2021.975,"a":620},
        {"t":2022.005,"a":650},
        {"t":2022.035,"a":600},
        {"t":2022.065,"a":700},
        {"t":2022.095,"a":680},
        {"t":2022.125,"a":650},
        {"t":2022.155,"a":600},
        {"t":2022.185,"a":540},
        {"t":2022.215,"a":500},
        {"t":2022.245,"a":450},
        {"t":2022.275,"a":480},
        {"t":2022.305,"a":460},
        {"t":2022.335,"a":540},
        {"t":2022.365,"a":600},
        {"t":2022.395,"a":580},
        {"t":2022.425,"a":640},
        {"t":2022.455,"a":600},
        {"t":2022.485,"a":580},
        {"t":2022.515,"a":480},
        {"t":2022.545,"a":420},
        {"t":2022.565,"a":340}
      ]},
      "transform": [
        {"fold": ["a", "b", "c"], "as": ["serie", "v"]},
        {"filter": "isValid(datum.v)"}
      ],
      "layer": [
        {
          "mark": {"type": "rule", "color": "#BFBFBF", "strokeWidth": 2},
          "encoding": {
            "x": {"datum": 1997, "type": "quantitative", "scale": {"domain": [1997, 2023], "range": [97, 2140], "nice": false, "zero": false}},
            "x2": {"datum": 2023.97},
            "y": {"datum": 815, "type": "quantitative", "scale": {"domain": [-1000, 9000], "nice": false, "zero": false}}
          }
        },
        {
          "mark": {"type": "line", "color": "black", "strokeWidth": 6},
          "encoding": {
            "x": {"field": "t", "type": "quantitative", "scale": {"domain": [1997, 2023], "range": [97, 2140], "nice": false, "zero": false}},
            "y": {"datum": 0, "type": "quantitative", "scale": {"domain": [-1000, 9000], "nice": false, "zero": false}},
            "strokeDash": {
              "datum": "0,0%",
              "scale": {"domain": ["0,0%"], "range": [[1, 0]]},
              "legend": {
                "orient": "none",
                "legendX": 1824,
                "legendY": 371,
                "title": null,
                "padding": 20,
                "fillColor": "white",
                "symbolType": "stroke",
                "symbolSize": 2304,
                "symbolStrokeWidth": 6,
                "symbolStrokeColor": "black",
                "labelFont": "Liberation Sans, sans-serif",
                "labelFontSize": 27,
                "labelColor": "#595959",
                "labelOffset": 2,
                "labelLimit": 400
              }
            }
          }
        },
        {
          "transform": [{"filter": "datum.serie == 'a'"}],
          "mark": {"type": "point", "shape": "M-1,0L1,0M0,-1L0,1", "filled": false, "size": 80, "strokeWidth": 1.6, "opacity": 1},
          "encoding": {
            "x": {
              "field": "t", "type": "quantitative",
              "scale": {"domain": [1997, 2023], "range": [97, 2140], "nice": false, "zero": false},
              "axis": {
                "title": null,
                "values": [1997, 1999, 2001, 2003, 2005, 2007, 2009, 2011, 2013, 2015, 2017, 2019, 2021],
                "labelExpr": "'01/01/' + datum.value",
                "grid": true, "gridColor": "#D9D9D9", "gridWidth": 1.5,
                "domain": true, "domainColor": "#BFBFBF", "domainWidth": 2,
                "ticks": false,
                "labelFont": "Liberation Sans, sans-serif",
                "labelFontSize": 25, "labelColor": "#595959", "labelPadding": 10,
                "labelFlush": false, "labelOverlap": false
              }
            },
            "y": {
              "field": "v", "type": "quantitative",
              "scale": {"domain": [-1000, 9000], "nice": false, "zero": false},
              "axis": {
                "title": null,
                "offset": -97,
                "values": [-1000, 0, 1000, 2000, 3000, 4000, 5000, 6000, 7000, 8000, 9000],
                "labelExpr": "(datum.value < 0 ? '-' : '') + replace(format(abs(datum.value), ','), ',', ' ') + '%'",
                "grid": true, "gridColor": "#D9D9D9", "gridWidth": 1.5,
                "domain": false, "ticks": false,
                "labelFont": "Liberation Sans, sans-serif",
                "labelFontSize": 21, "labelColor": "#595959", "labelPadding": 19,
                "labelFlush": false
              }
            },
            "color": {
              "field": "serie", "type": "nominal",
              "scale": {"domain": ["a", "b", "c"], "range": ["#FFC000", "#0070C0", "#FF0000"]},
              "legend": {
                "orient": "none",
                "legendX": 1836,
                "legendY": 192,
                "title": null,
                "padding": 20,
                "fillColor": "white",
                "symbolType": "M-1,0L1,0M0,-1L0,1",
                "symbolSize": 64,
                "symbolStrokeWidth": 2,
                "labelFont": "Liberation Sans, sans-serif",
                "labelFontSize": 27,
                "labelColor": "#595959",
                "labelOffset": 13,
                "labelLimit": 400,
                "rowPadding": 36,
                "labelExpr": "datum.value == 'a' ? 'Rendement_A04' : datum.value == 'b' ? 'Rendement_A07' : 'Rendement_A10'"
              }
            }
          }
        },
        {
          "transform": [{"filter": "datum.serie == 'b'"}],
          "mark": {"type": "point", "shape": "M-1,0L1,0M0,-1L0,1", "filled": false, "size": 85, "strokeWidth": 2.5, "opacity": 1},
          "encoding": {
            "x": {"field": "t", "type": "quantitative", "scale": {"domain": [1997, 2023], "range": [97, 2140], "nice": false, "zero": false}},
            "y": {"field": "v", "type": "quantitative", "scale": {"domain": [-1000, 9000], "nice": false, "zero": false}},
            "color": {"field": "serie", "type": "nominal", "scale": {"domain": ["a", "b", "c"], "range": ["#FFC000", "#0070C0", "#FF0000"]}}
          }
        },
        {
          "transform": [{"filter": "datum.serie == 'c'"}],
          "mark": {"type": "point", "shape": "M-1,0L1,0M0,-1L0,1", "filled": false, "size": 85, "strokeWidth": 2.5, "opacity": 1},
          "encoding": {
            "x": {"field": "t", "type": "quantitative", "scale": {"domain": [1997, 2023], "range": [97, 2140], "nice": false, "zero": false}},
            "y": {"field": "v", "type": "quantitative", "scale": {"domain": [-1000, 9000], "nice": false, "zero": false}},
            "color": {"field": "serie", "type": "nominal", "scale": {"domain": ["a", "b", "c"], "range": ["#FFC000", "#0070C0", "#FF0000"]}}
          }
        }
      ]
    }
  ]
}
